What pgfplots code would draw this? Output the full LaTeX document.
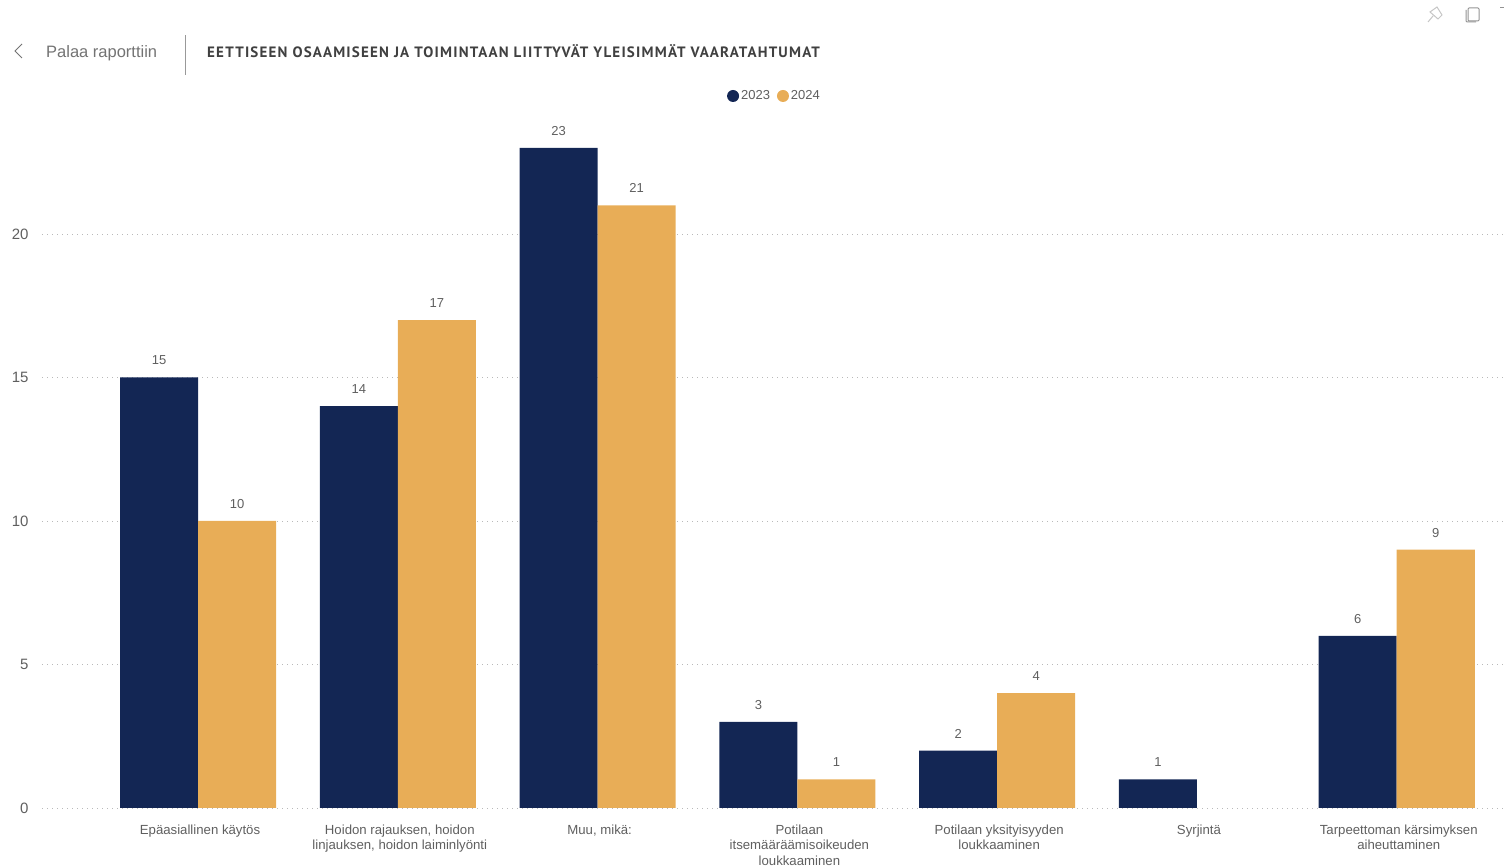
\documentclass[border=0pt]{standalone}
\usepackage{fontspec}
\setmainfont{Liberation Sans}
\newfontfamily\titlefont[LetterSpace=8]{PT Sans}
\usepackage{pgfplots}
\pgfplotsset{compat=1.18}
\usepackage{pgfplotstable}
\definecolor{navy}{HTML}{132654}
\definecolor{gold}{HTML}{E8AD57}
\definecolor{lab}{HTML}{5F5F5F}
\pgfplotstableread{
x y
0 15
1 14
2 23
3 3
4 2
5 1
6 6
}\seriesA
\pgfplotstableread{
x y
0 10
1 17
2 21
3 1
4 4
6 9
}\seriesB
\begin{document}
\begin{tikzpicture}[x=1pt,y=1pt]
\path[use as bounding box] (0,0) rectangle (1504,867);
\begin{axis}[
  at={(42pt,59pt)},anchor=south west,
  scale only axis,width=1462pt,height=688.8pt,
  xmin=-0.781,xmax=6.537,ymin=0,ymax=24,
  axis line style={draw=none},
  major tick length=0pt,
  clip=false,
  ytick={0,5,10,15,20},
  ymajorgrids,
  grid style={gray!55,line width=0.8pt,dash pattern=on 1pt off 4pt},
  xtick={0,...,6},
  xticklabels={{Epäasiallinen käytös},{Hoidon rajauksen, hoidon\\linjauksen, hoidon laiminlyönti},{Muu, mikä:},{Potilaan\\itsemääräämisoikeuden\\loukkaaminen},{Potilaan yksityisyyden\\loukkaaminen},{Syrjintä},{Tarpeettoman kärsimyksen\\aiheuttaminen}},
  xticklabel style={align=center,text=lab,font=\fontsize{13.2}{15.5}\selectfont,anchor=north,yshift=-13pt,xshift=2pt},
  yticklabel style={text=lab,font=\fontsize{15}{18}\selectfont,anchor=east,xshift=-10pt},
  /pgf/number format/assume math mode=true,
  bar width=78pt,
  nodes near coords,
  legend style={at={(0.501,1.0337)},anchor=center,draw=none,fill=none,legend columns=2,
    font=\fontsize{13}{15}\selectfont,text=lab,inner sep=0pt,
    /tikz/every even column/.style={column sep=5pt}},
  legend image code/.code={\fill[#1] (0pt,0pt) circle (6pt);},
]
\addplot[ybar,bar shift=-39pt,fill=navy,draw=none,
  nodes near coords style={text=lab,font=\fontsize{13}{15}\selectfont,anchor=south,yshift=9pt,xshift=-39pt}] table[x=x,y=y] {\seriesA};
\addlegendentry{2023}
\addplot[ybar,bar shift=39pt,fill=gold,draw=none,
  nodes near coords style={text=lab,font=\fontsize{13}{15}\selectfont,anchor=south,yshift=9pt,xshift=39pt}] table[x=x,y=y] {\seriesB};
\addlegendentry{2024}
\end{axis}
\draw[gray!80,line width=0.9pt] (185,792) -- (185,832);
\draw[gray!90!black,line width=1pt] (22,823) -- (15,816) -- (22,809);
\node[anchor=base west,text=gray!90!black,inner sep=0pt,font=\fontsize{16.5}{18}\selectfont] at (46,809) {Palaa raporttiin};
\node[anchor=base west,text=black!75,inner sep=0pt,font=\titlefont\bfseries\fontsize{15}{16}\selectfont] at (207,809.5) {EETTISEEN OSAAMISEEN JA TOIMINTAAN LIITTYVÄT YLEISIMMÄT VAARATAHTUMAT};
% icons
\draw[gray!45,line width=1pt] (1430,855) -- (1438,848) -- (1442,852) -- (1437,860) -- cycle (1428,845) -- (1433,851);
\draw[gray!85,line width=1pt,rounded corners=1pt] (1468,859) rectangle (1479,846);
\draw[gray!85,line width=1pt,rounded corners=1pt] (1466,857) -- (1466,845) -- (1476,845);
\draw[gray!85,line width=1pt] (1500,859) -- (1504,859);
\end{tikzpicture}
\end{document}
